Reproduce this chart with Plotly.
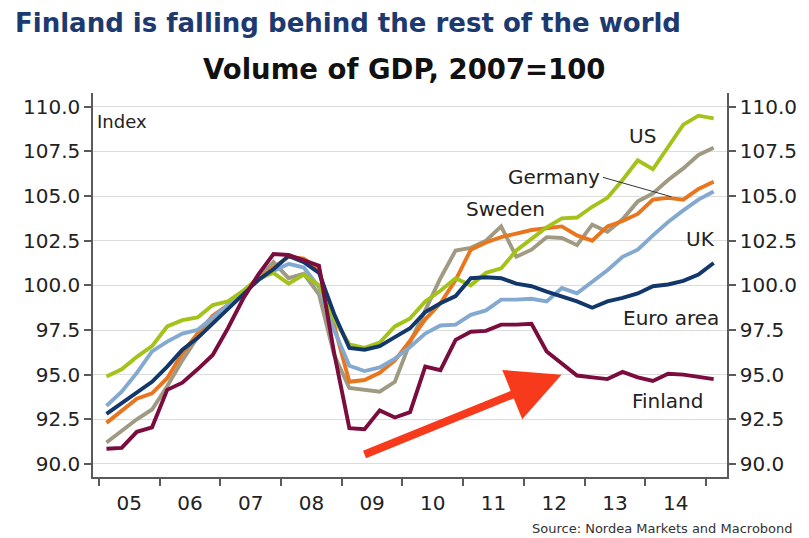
import plotly.graph_objects as go

# Quarterly GDP volume index, 2007 = 100, 2005Q1 .. 2015Q1
quarters = [f"{y}Q{q}" for y in range(2005, 2015) for q in range(1, 5)] + ["2015Q1"]

us = [94.9, 95.3, 96.0, 96.6, 97.7, 98.05, 98.2, 98.9,
      99.1, 99.7, 100.4, 100.7, 100.1, 100.6, 100.0, 98.1,
      96.7, 96.5, 96.8, 97.7, 98.15, 99.1, 99.7, 100.4,
      100.0, 100.7, 100.95, 101.95, 102.6, 103.25, 103.75, 103.8,
      104.4, 104.9, 105.9, 107.0, 106.5, 107.8, 109.0, 109.5, 109.35]
germany = [92.3, 93.0, 93.65, 93.95, 94.8, 96.2, 97.3, 98.3,
           98.9, 99.6, 100.3, 101.0, 101.6, 101.5, 100.9, 97.7,
           94.6, 94.7, 95.1, 95.8, 96.9, 98.1, 99.0, 100.3,
           102.0, 102.4, 102.7, 102.9, 103.1, 103.2, 103.3, 102.8,
           102.5, 103.3, 103.6, 104.0, 104.8, 104.9, 104.8, 105.4, 105.8]
sweden = [91.2, 91.85, 92.5, 93.05, 94.35, 95.8, 97.1, 97.95,
          98.8, 99.6, 100.4, 101.3, 100.4, 100.65, 99.5, 96.1,
          94.25, 94.15, 94.05, 94.6, 96.8, 98.6, 100.4, 101.95,
          102.1, 102.5, 103.3, 101.6, 102.0, 102.7, 102.65, 102.25,
          103.4, 103.0, 103.7, 104.7, 105.15, 105.9, 106.55, 107.3, 107.7]
uk = [93.25, 94.05, 95.1, 96.3, 96.85, 97.3, 97.5, 98.2,
      98.9, 99.6, 100.3, 100.8, 101.2, 101.0, 99.9, 97.5,
      95.5, 95.2, 95.4, 95.9, 96.55, 97.3, 97.75, 97.8,
      98.35, 98.6, 99.2, 99.2, 99.25, 99.1, 99.85, 99.55,
      100.2, 100.85, 101.6, 102.0, 102.8, 103.55, 104.2, 104.8, 105.25]
euro_area = [92.8, 93.4, 94.05, 94.6, 95.45, 96.4, 97.05, 97.85,
             98.7, 99.5, 100.3, 100.9, 101.65, 101.3, 100.7, 98.4,
             96.5, 96.4, 96.6, 97.1, 97.6, 98.5, 99.0, 99.4,
             100.4, 100.45, 100.4, 100.1, 99.95, 99.65, 99.4, 99.1,
             98.75, 99.1, 99.3, 99.55, 99.95, 100.05, 100.25, 100.6, 101.25]
finland = [90.85, 90.9, 91.8, 92.05, 94.15, 94.55, 95.3, 96.1,
           97.6, 99.25, 100.6, 101.75, 101.7, 101.4, 101.1, 96.2,
           92.0, 91.95, 93.0, 92.6, 92.9, 95.45, 95.25, 96.95,
           97.4, 97.45, 97.8, 97.8, 97.85, 96.3, 95.65, 94.95,
           94.85, 94.75, 95.15, 94.85, 94.65, 95.05, 95.0, 94.9, 94.75]

year_labels = ["05", "06", "07", "08", "09", "10", "11", "12", "13", "14"]
y_ticks = [90.0, 92.5, 95.0, 97.5, 100.0, 102.5, 105.0, 107.5, 110.0]


def quarter_mid(q):
    """Centre of a quarter on a fractional-year axis."""
    year, qn = q.split("Q")
    return int(year) + (int(qn) - 0.5) / 4


x = [quarter_mid(q) for q in quarters]

series = [
    ("Sweden", sweden, "#A09A82"),
    ("Germany", germany, "#E8761F"),
    ("UK", uk, "#84A9D1"),
    ("US", us, "#A3C21A"),
    ("Euro area", euro_area, "#12386B"),
    ("Finland", finland, "#7A0C3E"),
]

FONT = "DejaVu Sans"
AXIS = "#5a5a5a"

fig = go.Figure()
for name, vals, color in series:
    fig.add_trace(go.Scatter(x=x, y=vals, name=name, mode="lines",
                             line=dict(color=color, width=3.9),
                             showlegend=False))
# carrier trace for the right-hand value axis
fig.add_trace(go.Scatter(x=x, y=finland, yaxis="y2", mode="lines",
                         line=dict(color="rgba(0,0,0,0)", width=0),
                         hoverinfo="skip", showlegend=False))

x_range = [2004.903, 2015.345]
y_range = [89.27, 110.77]

fig.update_layout(
    width=809, height=538,
    margin=dict(l=93, r=71, t=93, b=61),
    paper_bgcolor="white", plot_bgcolor="white",
    font=dict(family=FONT, color="#222"),
    xaxis=dict(
        range=x_range, showgrid=False, zeroline=False,
        showline=True, linecolor=AXIS, linewidth=1.5,
        tickmode="array",
        tickvals=[int(q[:4]) + 0.5 for q in quarters[::4][:10]],
        ticktext=year_labels,
        ticks="outside", ticklen=7, tickcolor="rgba(0,0,0,0)",
        tickfont=dict(size=20, color="#222"),
        minor=dict(tickmode="array",
                   tickvals=[int(q[:4]) for q in quarters[::4]],
                   ticks="outside", ticklen=7, tickwidth=1.5,
                   tickcolor=AXIS, showgrid=False),
    ),
    yaxis=dict(
        range=y_range, tickmode="array", tickvals=y_ticks, tickformat=".1f",
        showgrid=True, gridcolor="#dcdcdc", gridwidth=1, zeroline=False,
        showline=True, linecolor=AXIS, linewidth=1.5,
        ticks="outside", ticklen=7, tickwidth=1.5, tickcolor=AXIS,
        tickfont=dict(size=20, color="#222"),
    ),
    yaxis2=dict(
        range=y_range, overlaying="y", side="right",
        tickmode="array", tickvals=y_ticks, tickformat=".1f",
        showgrid=False, zeroline=False,
        showline=True, linecolor=AXIS, linewidth=1.5,
        ticks="outside", ticklen=7, tickwidth=1.5, tickcolor=AXIS,
        tickfont=dict(size=20, color="#222"),
    ),
)

annotations = [
    dict(text="<b>Finland is falling behind the rest of the world</b>",
         xref="paper", yref="paper", x=-0.126, y=1.183,
         xanchor="left", yanchor="middle", showarrow=False,
         font=dict(family=FONT, size=26, color="#1D3A70")),
    dict(text="<b>Volume of GDP, 2007=100</b>",
         xref="paper", yref="paper", x=0.491, y=1.063,
         xanchor="center", yanchor="middle", showarrow=False,
         font=dict(family=FONT, size=27.5, color="#111")),
    dict(text="Index", xref="paper", yref="paper", x=0.003, y=0.925,
         xanchor="left", yanchor="middle", showarrow=False,
         font=dict(family=FONT, size=18, color="#222")),
    dict(text="Source: Nordea Markets and Macrobond",
         xref="paper", yref="paper", x=1.107, y=-0.133,
         xanchor="right", yanchor="middle", showarrow=False,
         font=dict(family=FONT, size=13, color="#333")),
]

labels = [
    ("US", 2013.96, 108.36),
    ("Germany", 2012.50, 106.04),
    ("Sweden", 2011.69, 104.25),
    ("UK", 2014.91, 102.57),
    ("Euro area", 2014.42, 98.18),
    ("Finland", 2014.36, 93.5),
]
for text, lx, ly in labels:
    annotations.append(dict(text=text, x=lx, y=ly, xref="x", yref="y",
                            xanchor="center", yanchor="middle",
                            showarrow=False,
                            font=dict(family=FONT, size=20, color="#222")))

# red arrow pointing at Finland's flat post-2012 path
annotations.append(dict(text="", x=2012.62, y=95.0, xref="x", yref="y",
                        ax=2009.35, ay=90.5, axref="x", ayref="y",
                        showarrow=True, arrowhead=2, arrowsize=1.33,
                        arrowwidth=8, arrowcolor="#F83A1C", standoff=0))

fig.update_layout(annotations=annotations)

# leader line from the Germany label to its series
fig.add_shape(type="line", xref="x", yref="y",
              x0=2013.3, y0=106.05, x1=2014.43, y1=104.96,
              line=dict(color="#333", width=1))

fig.write_html("out.html")
